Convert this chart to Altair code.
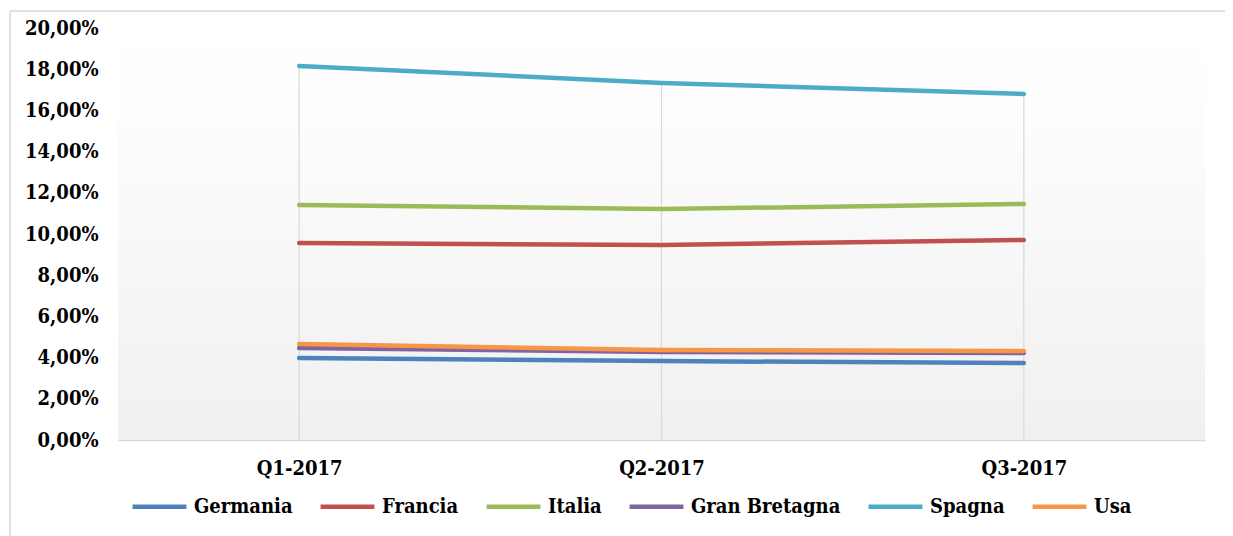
import altair as alt
import pandas as pd

trimestri = ["Q1-2017", "Q2-2017", "Q3-2017"]
paesi = ["Germania", "Francia", "Italia", "Gran Bretagna", "Spagna", "Usa"]
colori = ["#4F81BD", "#C0504D", "#9BBB59", "#8064A2", "#4BACC6", "#F79646"]

germania = [3.98, 3.83, 3.74]
francia = [9.56, 9.47, 9.71]
italia = [11.41, 11.21, 11.46]
gran_bretagna = [4.47, 4.27, 4.22]
spagna = [18.16, 17.33, 16.80]
usa = [4.66, 4.37, 4.32]

y_ticks = [0, 2, 4, 6, 8, 10, 12, 14, 16, 18, 20]

serie = [germania, francia, italia, gran_bretagna, spagna, usa]
rows = []
for p, vals in zip(paesi, serie):
    for t, v in zip(trimestri, vals):
        rows.append({"Paese": p, "Trimestre": t, "Valore": v})
df = pd.DataFrame(rows)

W, H = 1087, 412
GRID = "#d9d9d9"
FONT = "DejaVu Serif Condensed, DejaVu Serif"
FS = 20

dummy = pd.DataFrame({"k": [0]})

xenc = alt.X("Trimestre:N", sort=trimestri, title=None,
             scale=alt.Scale(type="point", padding=0.5),
             axis=alt.Axis(labelAngle=0, ticks=False, domain=True, domainColor=GRID,
                           domainWidth=1.5, grid=False,
                           labelFont=FONT, labelFontSize=FS, labelFontWeight="bold",
                           labelColor="#000000", labelPadding=18))
yscale = alt.Scale(domain=[0, 20], nice=False, zero=True)

bg = alt.Chart(dummy).mark_rect(
    fill=alt.Gradient(
        gradient="linear",
        stops=[alt.GradientStop(color="#ffffff", offset=0),
               alt.GradientStop(color="#fdfdfd", offset=0.2),
               alt.GradientStop(color="#f0f0f0", offset=1)],
        x1=0, x2=0, y1=0, y2=1,
    )
).encode(x=alt.value(0), x2=alt.value(W), y=alt.value(0), y2=alt.value(H))

border_top = alt.Chart(dummy).mark_rule(color=GRID, strokeWidth=1.5).encode(
    x=alt.value(-108), x2=alt.value(1130), y=alt.value(-17)
)
border_left = alt.Chart(dummy).mark_rule(color=GRID, strokeWidth=1.5).encode(
    x=alt.value(-108), y=alt.value(-17), y2=alt.value(520)
)

drop = alt.Chart(df).mark_rule(color=GRID, strokeWidth=1.2).encode(
    x=xenc,
    y=alt.Y("max(Valore):Q", scale=yscale, title=None),
    y2=alt.datum(0),
)

lines = alt.Chart(df).mark_line(strokeWidth=4.5, strokeCap="round", strokeJoin="round").encode(
    x=xenc,
    y=alt.Y("Valore:Q", title=None, scale=yscale,
            axis=alt.Axis(values=y_ticks, grid=False, ticks=False, domain=False,
                          labelExpr="replace(format(datum.value, '.2f'), '.', ',') + '%'",
                          labelFont=FONT, labelFontSize=FS, labelFontWeight="bold",
                          labelColor="#000000", labelPadding=20)),
    color=alt.Color("Paese:N", title=None,
                    scale=alt.Scale(domain=paesi, range=colori),
                    legend=alt.Legend(orient="none", direction="horizontal",
                                      legendX=12, legendY=449,
                                      symbolType="stroke", symbolSize=2900,
                                      symbolStrokeWidth=4.5,
                                      labelFont=FONT, labelFontSize=FS,
                                      labelFontWeight="bold", labelColor="#000000",
                                      labelOffset=5, columnPadding=18)),
)

chart = alt.layer(bg, border_top, border_left, drop, lines).properties(
    width=W, height=H,
    autosize=alt.AutoSizeParams(type="none"),
    padding={"left": 110, "top": 20, "right": 20, "bottom": 100},
).configure_view(stroke=None)

chart.save("out.html", embed_options={"renderer": "svg", "actions": False})
